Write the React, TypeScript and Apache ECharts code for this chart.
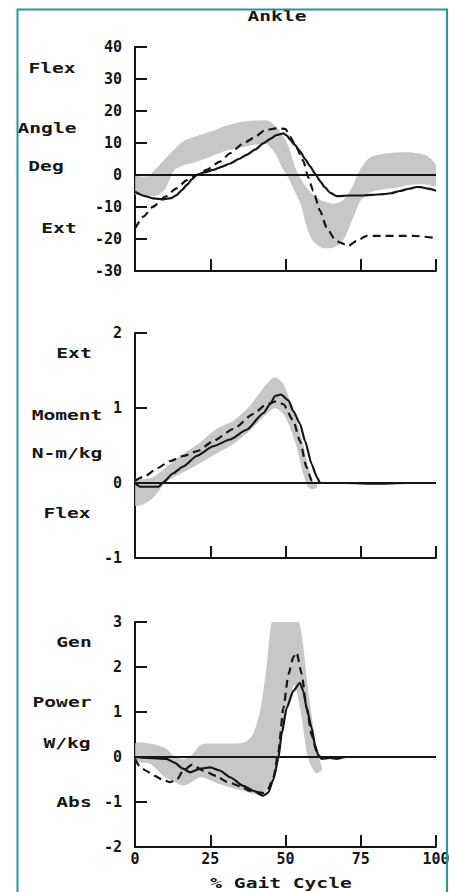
import React, { useEffect, useRef } from "react";
import * as echarts from "echarts";

// ---------- data ----------
const gaitTicks = [0, 25, 50, 75, 100];

// Ankle angle (deg)
const angleSolid = [
  [0, -5.2], [3, -6.5], [6, -7.3], [9.4, -7.6], [12, -7.2], [13.8, -6.3], [15.5, -4.8], [17.2, -3.1],
  [19, -1.3], [20.5, 0], [23, 0.8], [26, 1.6], [29, 2.6], [31.6, 3.6], [34.5, 5], [37.1, 6.3], [40, 8],
  [42.6, 9.9], [45, 11.3], [47, 12.5], [49.3, 13], [50.5, 12.3], [51.5, 11.1], [53, 9.5], [54.8, 7.5],
  [56.5, 5], [58.1, 2.8], [60, 0.2], [61.5, -1.9], [63, -3.8], [64.8, -5.5], [67, -6.6], [71, -6.4],
  [75.8, -6.4], [79, -6.2], [82.5, -6], [85, -5.7], [88, -5], [91, -4.3], [93.6, -3.75], [95, -3.8],
  [96.9, -4.2], [100, -4.9],
];
const angleDashed = [
  [0, -16.7], [2.8, -13], [6, -9.9], [10, -6.8], [13.8, -4.2], [17.2, -1.6], [20.5, 0], [23.8, 1.6],
  [28.2, 4.2], [31.6, 6.8], [36, 9.9], [39.3, 11.5], [43.2, 14], [47, 14.6], [50, 14.4], [51.5, 12],
  [53.7, 8.5], [55.9, 4.4], [57.6, -0.8], [59.2, -5], [61.5, -11.2], [63.7, -16.5], [66.4, -20.1],
  [68.1, -21.1], [70.9, -22.2], [73.6, -20.6], [77, -19], [81.4, -19], [92.5, -19], [99, -19.6],
];
const angleBandX = [0, 3, 5, 7, 10, 13, 16, 20, 25, 30, 35, 40, 44, 47, 49, 51, 53, 55, 57, 59, 62, 66, 69, 72, 75, 78, 82, 87, 92, 97, 100];
const angleBandHigh = [-0.5, -0.5, 0, 2, 5, 8, 10.5, 12, 13.5, 15.3, 16.5, 17, 17, 15, 12.5, 9, 3, -1, -4, -6, -8, -9, -8, -4, 2, 5.5, 6.5, 7, 7, 6, 3];
const angleBandLow = [-6, -6.2, -6.5, -6.5, -4.5, 1.5, 3, 4, 5.7, 7.5, 8.5, 9.5, 9.5, 6, 2, -1, -5, -9, -16, -20.5, -22.7, -22.7, -20.6, -14.5, -8, -5.5, -4.5, -4, -3, -3, -3.5];

// Ankle moment (N-m/kg)
const momentSolid = [
  [0, 0], [1.7, -0.05], [3.9, -0.05], [7.8, -0.05], [9.4, 0.01], [12.7, 0.13], [16, 0.22], [20.5, 0.36],
  [26, 0.49], [31.6, 0.58], [37.1, 0.71], [42.6, 0.93], [44.9, 1.05], [46.5, 1.16], [48.5, 1.18],
  [51, 1.1], [52.6, 0.96], [54.8, 0.79], [56.5, 0.56], [58.7, 0.25], [60.4, 0.08], [61.5, 0], [70, 0],
  [80, -0.01], [90, 0], [100, 0],
];
const momentDashed = [
  [0, 0.03], [3.3, 0.09], [7.5, 0.2], [11.5, 0.29], [16, 0.36], [21, 0.43], [26, 0.56], [32.7, 0.72],
  [39.3, 0.92], [43.7, 1.05], [47, 1.09], [49.3, 1.05], [52.6, 0.83], [54.8, 0.56], [57, 0.21],
  [58.7, 0.03], [59.8, 0], [100, 0],
];
const momentBandX = [0, 3, 6, 10, 13, 16, 21, 27, 32.7, 38.2, 43.7, 46.5, 49.3, 51.5, 53.7, 55.9, 57.6, 59.2, 60.5];
const momentBandHigh = [0.05, 0.05, 0.08, 0.2, 0.3, 0.39, 0.52, 0.72, 0.83, 1.03, 1.32, 1.41, 1.32, 1.1, 0.83, 0.52, 0.21, 0.03, -0.02];
const momentBandLow = [-0.3, -0.28, -0.2, 0.0, 0.08, 0.14, 0.25, 0.39, 0.52, 0.7, 0.92, 1.0, 0.92, 0.74, 0.48, 0.12, -0.06, -0.08, -0.06];

// Ankle power (W/kg)
const powerSolid = [
  [0, 0], [3.9, -0.02], [10.5, -0.04], [13, -0.12], [16, -0.26], [18.3, -0.34], [21.6, -0.26], [25, -0.23],
  [28.2, -0.3], [31.6, -0.45], [36, -0.64], [39.3, -0.75], [42.6, -0.86], [44.3, -0.79], [46, -0.49],
  [47.6, -0.04], [48.7, 0.5], [50.4, 1.09], [52.6, 1.47], [54.8, 1.65], [56, 1.45], [57, 1.09],
  [58.7, 0.64], [59.8, 0.26], [60.9, 0.04], [62, -0.04], [64.8, -0.02], [67, -0.04], [70, 0], [100, 0],
];
const powerDashed = [
  [0, -0.04], [1.5, -0.2], [3.5, -0.3], [6.6, -0.42], [9, -0.5], [11.5, -0.56], [14, -0.5], [16, -0.3],
  [19, -0.17], [22.6, -0.3], [27, -0.42], [30.5, -0.55], [35, -0.65], [38, -0.75], [42.6, -0.8],
  [44.3, -0.7], [46, -0.45], [47.6, 0.1], [49.3, 1.09], [51, 1.84], [52.6, 2.22], [53.7, 2.32],
  [55.4, 1.84], [57, 1.09], [58.7, 0.49], [60.4, 0.11], [61.5, 0], [100, 0],
];
const powerBandX = [0, 5, 10, 13, 16, 19, 22, 28, 34, 36, 38, 39.5, 41.5, 43.7, 45.4, 47, 49, 51, 53, 54.5, 56, 57, 58.5, 60, 61, 62];
const powerBandHigh = [0.3, 0.3, 0.2, 0.02, -0.05, 0.05, 0.28, 0.3, 0.3, 0.32, 0.4, 0.55, 1.0, 2.0, 3.0, 3.0, 3.0, 3.0, 3.0, 3.0, 2.4, 1.8, 1.0, 0.35, 0.0, -0.2];
const powerBandLow = [-0.1, -0.15, -0.45, -0.55, -0.64, -0.55, -0.45, -0.6, -0.72, -0.75, -0.8, -0.82, -0.85, -0.75, -0.55, -0.3, 0.5, 1.2, 1.6, 1.2, 0.6, 0.1, -0.2, -0.35, -0.35, -0.3];

const yRanges = [
  { min: -30, max: 40, interval: 10 },
  { min: -1, max: 2, interval: 1 },
  { min: -2, max: 3, interval: 1 },
];

const title = "Ankle";
const xTitle = "% Gait Cycle";
const sideLabels = [
  ["Flex", "Angle", "Deg", "Ext"],
  ["Ext", "Moment", "N-m/kg", "Flex"],
  ["Gen", "Power", "W/kg", "Abs"],
];

// ---------- styling ----------
const INK = "#161616";
const MONO = '"DejaVu Sans Mono", "Liberation Mono", monospace';
const BAND = "#bdbdbd";
const labelPos = [
  [[52, 68], [47, 128], [46, 166], [59, 228]],
  [[74, 353], [67, 415], [67, 453], [67, 513]],
  [[74, 642], [62, 702], [67, 743], [74, 802]],
];
const gridBoxes = [
  { left: 135, top: 47, width: 301, height: 224 },
  { left: 135, top: 333, width: 301, height: 225 },
  { left: 135, top: 622, width: 301, height: 225 },
];

// band drawn as one polygon through the axis scales (api.coord)
function bandSeries(idx: number, xs: number[], lo: number[], hi: number[]) {
  return {
    type: "custom",
    xAxisIndex: idx,
    yAxisIndex: idx,
    silent: true,
    clip: true,
    z: 1,
    data: xs.map((x, i) => [x, lo[i], hi[i]]),
    encode: { x: 0, y: [1, 2] },
    renderItem: (params: any, api: any) => {
      if (params.dataIndex !== 0) return null;
      const top = xs.map((x, i) => api.coord([x, hi[i]]));
      const bottom = xs.map((x, i) => api.coord([x, lo[i]])).reverse();
      return {
        type: "polygon",
        shape: { points: top.concat(bottom), smooth: 0.25 },
        style: { fill: BAND, opacity: 0.85 },
      };
    },
  };
}

function curveSeries(idx: number, data: number[][], dashed: boolean) {
  return {
    type: "line",
    xAxisIndex: idx,
    yAxisIndex: idx,
    data,
    symbol: "none",
    smooth: 0.2,
    smoothMonotone: "x",
    silent: true,
    lineStyle: { color: INK, width: 2.2, type: dashed ? [8, 5] : "solid" },
    z: 3,
  };
}

function zeroSeries(idx: number) {
  return {
    type: "line",
    xAxisIndex: idx,
    yAxisIndex: idx,
    data: [[0, 0], [100, 0]],
    symbol: "none",
    silent: true,
    lineStyle: { color: INK, width: 2 },
    z: 2,
  };
}

export default function App() {
  const ref = useRef<HTMLDivElement>(null);

  useEffect(() => {
    if (!ref.current) return;
    const chart = echarts.init(ref.current, null, { renderer: "svg" });

    const textStyle = (t: string) => ({
      text: t,
      font: `bold 14px ${MONO}`,
      fill: INK,
      align: "center",
      verticalAlign: "middle",
      textAlign: "center",
      textVerticalAlign: "middle",
    });

    const texts: any[] = [];
    sideLabels.forEach((group, gi) =>
      group.forEach((t, li) => {
        const [x, y] = labelPos[gi][li];
        texts.push({ type: "text", x, y, scaleX: 1.4, style: textStyle(t) });
      })
    );
    texts.push({ type: "text", x: 277, y: 16, scaleX: 1.4, style: textStyle(title) });
    texts.push({ type: "text", x: 281, y: 883, scaleX: 1.4, style: textStyle(xTitle) });
    texts.push({
      type: "rect",
      shape: { x: 17.5, y: 9.5, width: 429.5, height: 900 },
      style: { fill: "none", stroke: "#1a9c9a", lineWidth: 2 },
      z: 100,
    });

    const axisLine = { show: true, onZero: false, lineStyle: { color: INK, width: 2 } };
    const axisTick = { show: true, inside: true, length: 12, lineStyle: { color: INK, width: 2 } };
    const tickFont = { fontFamily: MONO, fontWeight: "bold", fontSize: 15, color: INK };

    const option: any = {
      animation: false,
      backgroundColor: "#ffffff",
      grid: gridBoxes.map((g) => ({ ...g, containLabel: false, outerBoundsMode: "none" })),
      xAxis: gridBoxes.map((_, i) => ({
        gridIndex: i,
        type: "value",
        min: gaitTicks[0],
        max: gaitTicks[gaitTicks.length - 1],
        interval: gaitTicks[1] - gaitTicks[0],
        axisLine,
        axisTick,
        splitLine: { show: false },
        axisLabel: { show: i === 2, margin: 4, ...tickFont },
      })),
      yAxis: yRanges.map((r, i) => ({
        gridIndex: i,
        type: "value",
        min: r.min,
        max: r.max,
        interval: r.interval,
        axisLine,
        axisTick,
        splitLine: { show: false },
        axisLabel: { show: true, margin: 13, ...tickFont },
      })),
      series: [
        bandSeries(0, angleBandX, angleBandLow, angleBandHigh),
        zeroSeries(0),
        curveSeries(0, angleDashed, true),
        curveSeries(0, angleSolid, false),
        bandSeries(1, momentBandX, momentBandLow, momentBandHigh),
        zeroSeries(1),
        curveSeries(1, momentDashed, true),
        curveSeries(1, momentSolid, false),
        bandSeries(2, powerBandX, powerBandLow, powerBandHigh),
        zeroSeries(2),
        curveSeries(2, powerDashed, true),
        curveSeries(2, powerSolid, false),
      ],
      graphic: texts,
    };
    chart.setOption(option);
    return () => chart.dispose();
  }, []);

  return (
    <div
      ref={ref}
      style={{ position: "fixed", left: 0, top: 0, width: 449, height: 892, background: "#fff" }}
    />
  );
}
